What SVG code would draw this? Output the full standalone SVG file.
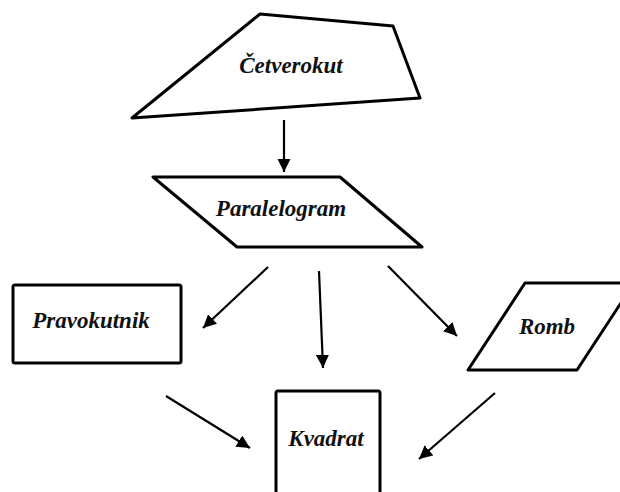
<svg xmlns="http://www.w3.org/2000/svg" width="620" height="492" viewBox="0 0 620 492">
<defs>
<style>
.shape{fill:#fff;stroke:#000;stroke-width:3;stroke-linejoin:round}
.lbl{font-family:"Liberation Serif","Times New Roman",serif;font-weight:bold;font-style:italic;font-size:23px;fill:#111;text-anchor:middle}
.arr{stroke:#000;stroke-width:2.2;fill:none;marker-end:url(#ah)}
</style>
<marker id="ah" viewBox="0 0 10 10" refX="10" refY="5" markerWidth="6" markerHeight="6" orient="auto" markerUnits="strokeWidth">
<path d="M0,0 L10,5 L0,10 Z" fill="#000"/>
</marker>
</defs>
<rect width="620" height="492" fill="#fff"/>
<g id="cetverokut">
<polygon class="shape" points="260,14 393,26 420,98 132,118"/>
<text class="lbl" x="291" y="73">Četverokut</text>
</g>
<g id="paralelogram">
<polygon class="shape" points="153,177 340,177 422,247 237,247"/>
<text class="lbl" x="281" y="216">Paralelogram</text>
</g>
<g id="pravokutnik">
<rect class="shape" x="13" y="285" width="168" height="78" rx="2"/>
<text class="lbl" x="91" y="328">Pravokutnik</text>
</g>
<g id="romb">
<polygon class="shape" points="525,283 634,283 577,370 468,370"/>
<text class="lbl" x="547" y="334">Romb</text>
</g>
<g id="kvadrat">
<rect class="shape" x="276" y="391" width="104" height="120" rx="2"/>
<text class="lbl" x="326" y="446">Kvadrat</text>
</g>
<g id="connectors">
<line class="arr" x1="284" y1="120" x2="284" y2="172"/>
<line class="arr" x1="268" y1="267" x2="203" y2="328"/>
<line class="arr" x1="319" y1="271" x2="323" y2="368"/>
<line class="arr" x1="388" y1="266" x2="457" y2="336"/>
<line class="arr" x1="166" y1="396" x2="250" y2="448"/>
<line class="arr" x1="495" y1="393" x2="419" y2="459"/>
</g>
</svg>
